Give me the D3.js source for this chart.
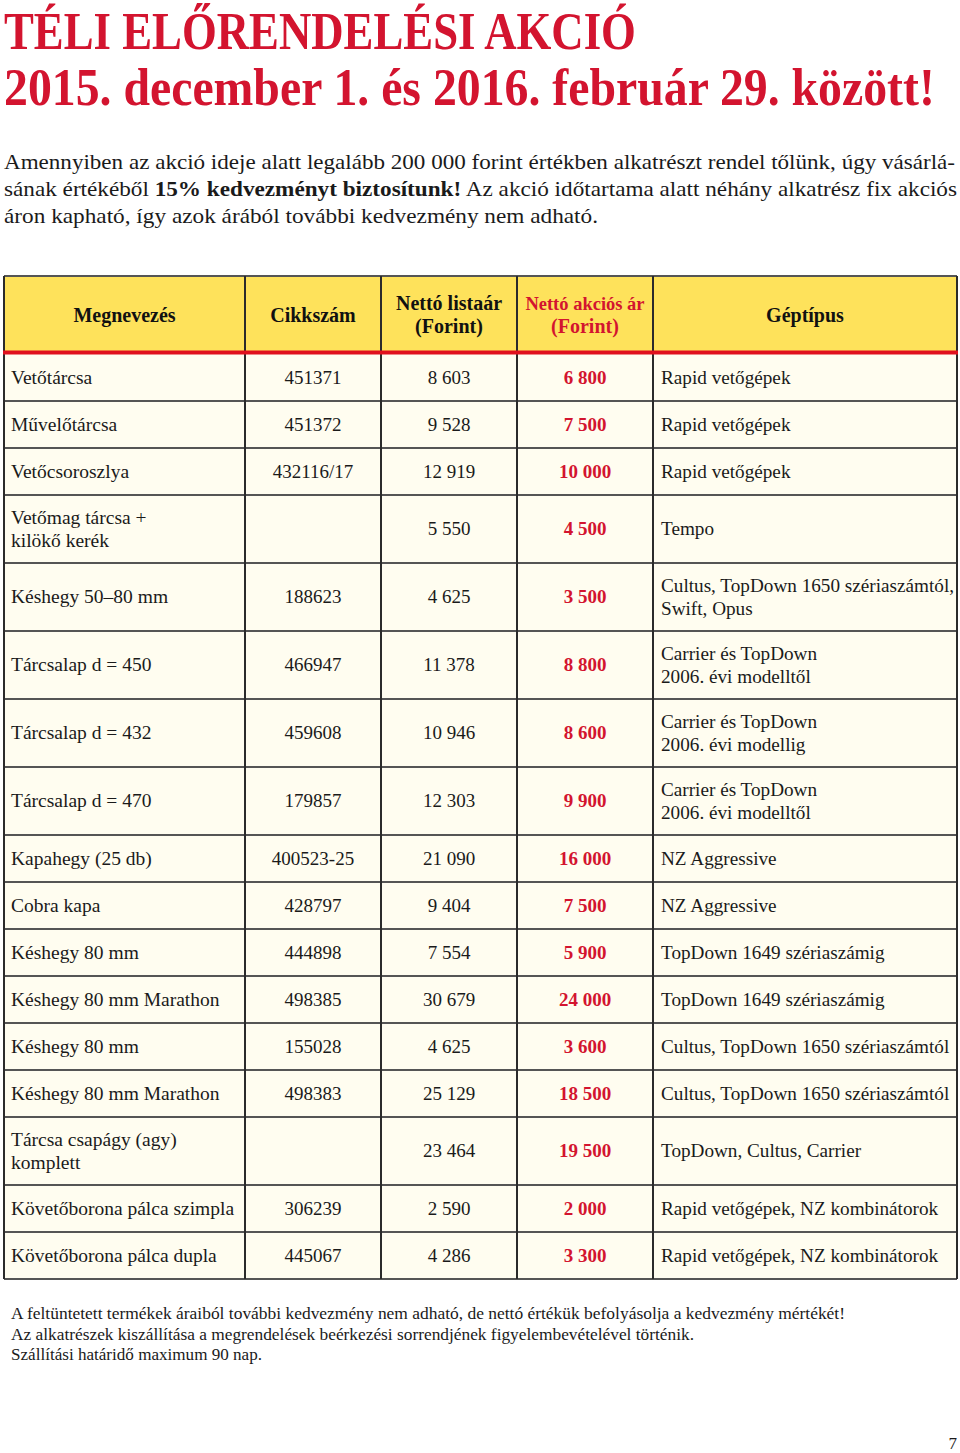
<!DOCTYPE html>
<html>
<head>
<meta charset="utf-8">
<script src="https://cdn.jsdelivr.net/npm/d3@7"></script>
<style>
  html, body { margin: 0; padding: 0; background: #fff; }
  svg { display: block; }
</style>
</head>
<body>
<script>
'use strict';

// Table data
var headers = ['Megnevezés', 'Cikkszám', 'Nettó listaár\n(Forint)', 'Nettó akciós ár\n(Forint)', 'Géptípus'];

var names = ['Vetőtárcsa', 'Művelőtárcsa', 'Vetőcsoroszlya', 'Vetőmag tárcsa +\nkilökő kerék',
  'Késhegy 50–80 mm', 'Tárcsalap d = 450', 'Tárcsalap d = 432', 'Tárcsalap d = 470',
  'Kapahegy (25 db)', 'Cobra kapa', 'Késhegy 80 mm', 'Késhegy 80 mm Marathon', 'Késhegy 80 mm',
  'Késhegy 80 mm Marathon', 'Tárcsa csapágy (agy)\nkomplett', 'Követőborona pálca szimpla',
  'Követőborona pálca dupla'];

var codes = ['451371', '451372', '432116/17', '', '188623', '466947', '459608', '179857',
  '400523-25', '428797', '444898', '498385', '155028', '498383', '', '306239', '445067'];

var listPrices = [8603, 9528, 12919, 5550, 4625, 11378, 10946, 12303, 21090, 9404, 7554,
  30679, 4625, 25129, 23464, 2590, 4286];

var salePrices = [6800, 7500, 10000, 4500, 3500, 8800, 8600, 9900, 16000, 7500, 5900,
  24000, 3600, 18500, 19500, 2000, 3300];

var machines = ['Rapid vetőgépek', 'Rapid vetőgépek', 'Rapid vetőgépek', 'Tempo',
  'Cultus, TopDown 1650 szériaszámtól,\nSwift, Opus', 'Carrier és TopDown\n2006. évi modelltől',
  'Carrier és TopDown\n2006. évi modellig', 'Carrier és TopDown\n2006. évi modelltől',
  'NZ Aggressive', 'NZ Aggressive', 'TopDown 1649 szériaszámig', 'TopDown 1649 szériaszámig',
  'Cultus, TopDown 1650 szériaszámtól', 'Cultus, TopDown 1650 szériaszámtól',
  'TopDown, Cultus, Carrier', 'Rapid vetőgépek, NZ kombinátorok', 'Rapid vetőgépek, NZ kombinátorok'];

var titleLines = ['TÉLI ELŐRENDELÉSI AKCIÓ', '2015. december 1. és 2016. február 29. között!'];

var footnotes = [
  'A feltüntetett termékek áraiból további kedvezmény nem adható, de nettó értékük befolyásolja a kedvezmény mértékét!',
  'Az alkatrészek kiszállítása a megrendelések beérkezési sorrendjének figyelembevételével történik.',
  'Szállítási határidő maximum 90 nap.'
];

// Layout
var W = 960, H = 1453;
var RED = '#d3142f', YELLOW = '#fee25b', CREAM = '#fffdf0', LINE = '#2b2b2b';
var SERIF = '"Liberation Serif", "Times New Roman", serif';
var colEdges = [4, 245, 381, 517, 653, 957];
var tableTop = 276, headerH = 77, bodyTop = 354;

var fmt = function (v) { return d3.format(',')(v).replace(/,/g, ' '); };

var svg = d3.select('body').append('svg')
  .attr('width', W).attr('height', H)
  .style('font-family', SERIF);

// Title: squeeze each line horizontally to the reference width
var titleWidths = [632, 931];
var titleBase = [49, 105];
svg.selectAll('.title').data(titleLines).enter().append('text')
  .attr('class', 'title')
  .attr('font-size', 52).attr('font-weight', 'bold')
  .attr('fill', RED)
  .text(function (d) { return d; })
  .each(function (d, i) {
    var natural = this.getComputedTextLength();
    var k = titleWidths[i] / natural;
    d3.select(this).attr('transform',
      'translate(4,' + titleBase[i] + ') scale(' + k + ',1)');
  });

// Intro paragraph
var intro = svg.append('g').attr('font-size', 21).attr('fill', '#1a1a1a');
intro.append('text').attr('x', 4).attr('y', 169)
  .attr('textLength', 951).attr('lengthAdjust', 'spacingAndGlyphs')
  .text('Amennyiben az akció ideje alatt legalább 200 000 forint értékben alkatrészt rendel tőlünk, úgy vásárlá-');
var l2 = intro.append('text').attr('x', 4).attr('y', 196)
  .attr('textLength', 953).attr('lengthAdjust', 'spacingAndGlyphs');
l2.append('tspan').text('sának értékéből ');
l2.append('tspan').attr('font-weight', 'bold').text('15% kedvezményt biztosítunk!');
l2.append('tspan').text(' Az akció időtartama alatt néhány alkatrész fix akciós');
intro.append('text').attr('x', 4).attr('y', 223)
  .attr('textLength', 594).attr('lengthAdjust', 'spacingAndGlyphs')
  .text('áron kapható, így azok árából további kedvezmény nem adható.');

// Rows: build records, height from line count
var rows = names.map(function (n, i) {
  var lines = Math.max(n.split('\n').length, machines[i].split('\n').length);
  return {
    cells: [n, codes[i], fmt(listPrices[i]), fmt(salePrices[i]), machines[i]],
    h: lines > 1 ? 68 : 47
  };
});
var yAcc = bodyTop;
rows.forEach(function (r) { r.y = yAcc; yAcc += r.h; });
var tableBottom = yAcc;

var x = function (c) { return colEdges[c]; };
var cw = function (c) { return colEdges[c + 1] - colEdges[c]; };

// Header background
svg.append('rect').attr('x', x(0)).attr('y', tableTop)
  .attr('width', colEdges[5] - colEdges[0]).attr('height', headerH)
  .attr('fill', YELLOW);
// Body background
svg.append('rect').attr('x', x(0)).attr('y', bodyTop)
  .attr('width', colEdges[5] - colEdges[0]).attr('height', tableBottom - bodyTop)
  .attr('fill', CREAM);

// Header text
var hg = svg.selectAll('.hcell').data(headers).enter().append('text')
  .attr('class', 'hcell')
  .attr('font-size', 20).attr('font-weight', 'bold')
  .attr('text-anchor', 'middle')
  .attr('fill', function (d, i) { return i === 3 ? RED : '#111'; });
hg.each(function (d, i) {
  var lines = d.split('\n');
  var cy = tableTop + headerH / 2 + 1;
  d3.select(this).selectAll('tspan').data(lines).enter().append('tspan')
    .attr('x', x(i) + cw(i) / 2)
    .attr('y', function (l, j) { return cy + (j - (lines.length - 1) / 2) * 23 + 6; })
    .attr('font-size', function (l) { return l.length > 13 ? 18.5 : null; })
    .text(function (l) { return l; });
});

// Body text
var rg = svg.selectAll('.row').data(rows).enter().append('g').attr('class', 'row');
rg.each(function (r) {
  var g = d3.select(this);
  r.cells.forEach(function (c, ci) {
    var lines = c.split('\n');
    var cy = r.y + r.h / 2;
    var t = g.append('text')
      .attr('font-size', ci === 0 ? 19.5 : ci === 4 ? 19.2 : 19)
      .attr('fill', ci === 3 ? RED : '#1a1a1a')
      .attr('font-weight', ci === 3 ? 'bold' : 'normal')
      .attr('text-anchor', (ci === 0 || ci === 4) ? 'start' : 'middle');
    var tx = ci === 0 ? x(0) + 7 : ci === 4 ? x(4) + 8 : x(ci) + cw(ci) / 2;
    t.selectAll('tspan').data(lines).enter().append('tspan')
      .attr('x', tx)
      .attr('y', function (l, j) { return cy + (j - (lines.length - 1) / 2) * 23 + 6; })
      .text(function (l) { return l; });
  });
});

// Grid lines
var grid = svg.append('g').attr('stroke', LINE).attr('stroke-width', 2);
rows.forEach(function (r, i) {
  if (i > 0) {
    grid.append('line').attr('x1', x(0)).attr('x2', x(5))
      .attr('y1', r.y).attr('y2', r.y).attr('stroke', '#555');
  }
});
grid.append('line').attr('x1', x(0)).attr('x2', x(5))
  .attr('y1', tableTop).attr('y2', tableTop).attr('stroke', '#555');
grid.append('line').attr('x1', x(0)).attr('x2', x(5))
  .attr('y1', tableBottom).attr('y2', tableBottom).attr('stroke', '#555');
colEdges.forEach(function (cx) {
  grid.append('line').attr('x1', cx).attr('x2', cx)
    .attr('y1', tableTop).attr('y2', tableBottom);
});
// Red rule under header
svg.append('line').attr('x1', x(0) - 1).attr('x2', x(5) + 1)
  .attr('y1', bodyTop - 1.5).attr('y2', bodyTop - 1.5)
  .attr('stroke', '#e0101e').attr('stroke-width', 4);

// Footnotes
var footLen = [834, 683, 251];
svg.selectAll('.foot').data(footnotes).enter().append('text')
  .attr('class', 'foot')
  .attr('x', 11)
  .attr('y', function (d, i) { return 1319 + i * 20.5; })
  .attr('font-size', 16).attr('fill', '#1a1a1a')
  .attr('textLength', function (d, i) { return footLen[i]; })
  .attr('lengthAdjust', 'spacingAndGlyphs')
  .text(function (d) { return d; });

// Page number
svg.append('text').attr('x', 957).attr('y', 1449).attr('text-anchor', 'end')
  .attr('font-size', 17).attr('fill', '#1a1a1a').text('7');
</script>
</body>
</html>
